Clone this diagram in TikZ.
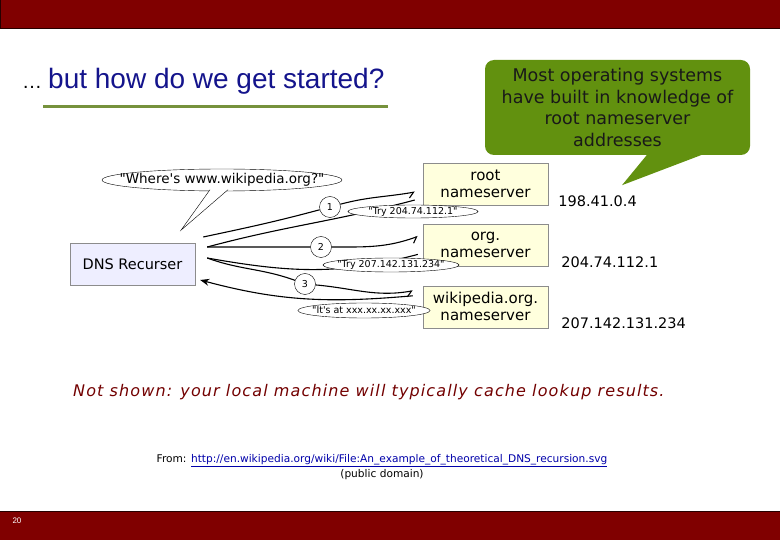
\documentclass[tikz,border=0pt]{standalone}
\usepackage{fontspec}
\setmainfont{DejaVu Sans}[Ligatures=TeXOff]
\newfontfamily\arialfont{Liberation Sans}
\usetikzlibrary{positioning,arrows.meta,shapes.geometric,backgrounds,calc}

\definecolor{barred}{RGB}{128,0,0}
\definecolor{titleblue}{RGB}{20,20,140}
\definecolor{olivebar}{RGB}{118,146,60}
\definecolor{notegreen}{RGB}{98,145,15}
\definecolor{recfill}{RGB}{238,238,255}
\definecolor{nsfill}{RGB}{255,255,221}
\definecolor{linkblue}{RGB}{0,0,170}
\definecolor{hintred}{RGB}{115,0,0}

% text that should not widen its ellipse
\newcommand\slimtext[1]{\makebox[0pt]{#1}}

\begin{document}
\begin{tikzpicture}[
	x=1pt, y=1pt,
	font=\fontsize{14.5}{17}\selectfont,
	bar/.style={fill=barred, draw=black!70!barred, line width=0.8pt},
	recbox/.style={
		draw=black!45,
		fill=recfill,
		minimum width=125pt,
		minimum height=42pt,
		inner sep=0pt,
	},
	nsbox/.style={
		draw=black!45,
		fill=nsfill,
		minimum width=125pt,
		minimum height=42pt,
		inner sep=0pt,
		align=center,
		font=\fontsize{15}{17}\selectfont,
	},
	ip/.style={anchor=west, inner sep=0pt, font=\fontsize{14.5}{17}\selectfont},
	stepnum/.style={draw, circle, fill=white, minimum size=21pt, inner sep=0pt, font=\fontsize{9.5}{10}\selectfont},
	reply/.style={draw, ellipse, fill=white, inner sep=0pt, font=\fontsize{9.5}{11}\selectfont},
	req/.style={line width=1.1pt, -{Straight Barb[harpoon,swap,length=5pt]}},
	ans/.style={line width=1.1pt},
]
\useasboundingbox (0,0) rectangle (780,-540);

% Slide frame
\path[bar] (0,1) rectangle (781,-28);
\path[bar] (-1,-511) rectangle (781,-541);
\node[text=white, font=\arialfont\fontsize{8}{9}\selectfont] (pagenum) at (17,-521) {20};

% Title
\node[anchor=base west, inner sep=0pt, font=\arialfont\fontsize{20}{24}\selectfont] (dots) at (22,-89) {…};
\node[anchor=base west, inner sep=0pt, text=titleblue, font=\arialfont\fontsize{28}{32}\selectfont] (title) at (48,-89) {but how do we get started?};
\draw[olivebar, line width=3pt] ($(title.base west)+(-5,-18)$) -- ($(title.base east)+(3,-18)$);

% Callout
\node[fill=notegreen, rounded corners=9pt, minimum width=265pt, minimum height=95pt, align=center,
	font=\fontsize{17.5}{21.5}\selectfont, text=black!90] (note) at (617.5,-107.5)
	{Most operating systems\\have built in knowledge of\\root nameserver\\addresses};
\fill[notegreen] ($(note.south)+(30,1)$) -- ($(note.south)+(4.5,-30)$) -- ($(note.south)+(86,1)$) -- cycle;

% Recurser and nameservers
\node[recbox] (rec) at (132.5,-264) {DNS Recurser};
\node[nsbox] (root) at (485.5,-184) {root\\nameserver};
\node[nsbox, below=19pt of root] (org) {org.\\nameserver};
\node[nsbox, below=19pt of org] (wiki) {wikipedia.org.\\nameserver};

\node[ip] (ip1) at ($(root.east)+(10,-17)$) {198.41.0.4};
\node[ip] (ip2) at ($(org.east)+(13,-17)$) {204.74.112.1};
\node[ip] (ip3) at ($(wiki.east)+(13,-16)$) {207.142.131.234};

% Question bubble
\node[draw, ellipse, fill=white, minimum width=240pt, minimum height=22pt, inner sep=0pt,
	font=\fontsize{13.5}{15}\selectfont] (ask) at (222,-180) {\slimtext{"Where's www.wikipedia.org?"}};
\coordinate (askL) at ($(ask.south)+(-12,1.5)$);
\coordinate (askR) at ($(ask.south)+(6,1.5)$);
\coordinate (askTip) at ($(ask.south)+(-41,-39)$);
\fill[white] (askL) -- (askTip) -- (askR) -- cycle;
\draw (askL) -- (askTip) -- (askR);

% Steps and replies
\node[stepnum] (n1) at (330,-207) {1};
\node[stepnum] (n2) at (321,-247) {2};
\node[stepnum] (n3) at (305,-284) {3};

\node[reply, minimum width=130pt, minimum height=13pt] (try1) at (413,-211.5) {\slimtext{"Try 204.74.112.1"}};
\node[reply, minimum width=136pt, minimum height=14pt] (try2) at (391,-265) {\slimtext{"Try 207.142.131.234"}};
\node[reply, minimum width=132pt, minimum height=15pt] (found) at (364,-310.5) {\slimtext{"It's at xxx.xx.xx.xxx"}};

% Connectors behind everything
\begin{scope}[on background layer]
\fill[white] (0,0) rectangle (780,-540);
\coordinate (fanA) at ($(rec.east)+(8,27)$);
\coordinate (fanB) at ($(rec.east)+(12,17)$);
\coordinate (fanC) at ($(rec.east)+(12,6)$);
\coordinate (fanD) at ($(rec.east)+(5,-16)$);
\coordinate (rootin) at ($(root.west)+(-8,-8)$);
\coordinate (rootout) at ($(root.west)+(-8,-16)$);
\coordinate (orgin) at ($(org.west)+(-5,9)$);
\coordinate (orgout) at ($(org.west)+(-5,-9)$);
\coordinate (wikiin) at ($(wiki.west)+(-10,16)$);
\coordinate (wikiout) at ($(wiki.west)+(-10,11)$);

\draw[req] (fanA) to[out=12,in=195] (n1) to[out=15,in=190] (rootin);
\draw[ans] (rootout) to[out=195,in=15] (fanB);
\draw[req] (fanB) to[out=0,in=180] (n2) to[out=0,in=200] (orgin);
\draw[ans] (orgout) to[out=195,in=-10] (fanC);
\draw[req] (fanC) to[out=-20,in=160] (n3) to[out=-5,in=190] (wikiin);
\draw[ans, -{Stealth[length=9pt,width=7pt]}] (wikiout) to[out=185,in=-15] (fanD);
\end{scope}

% Notes
\node[anchor=base west, inner sep=0pt, text=hintred, font=\itshape\fontsize{16}{18}\selectfont\addfontfeature{LetterSpace=7}] (hint) at (73,-396)
	{Not shown: your local machine will typically cache lookup results.};
\node[align=center, inner sep=0pt, font=\fontsize{10.6}{15}\selectfont] (src) at (382,-467)
	{From: {\color{linkblue}\underline{http://en.wikipedia.org/wiki/File:An\_example\_of\_theoretical\_DNS\_recursion.svg}}\\(public domain)};

\end{tikzpicture}
\end{document}
